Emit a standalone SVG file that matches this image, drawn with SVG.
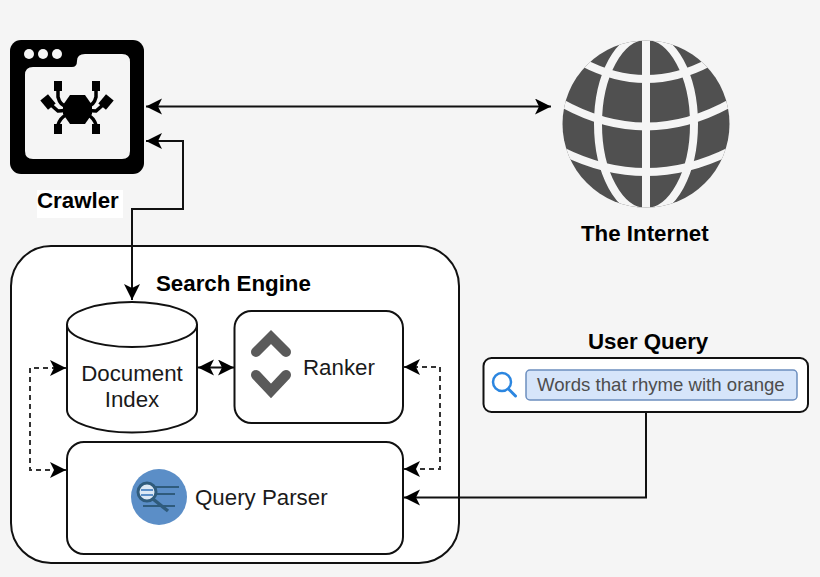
<svg xmlns="http://www.w3.org/2000/svg" width="820" height="577" viewBox="0 0 820 577">
<style>
text{font-family:"Liberation Sans",Arial,sans-serif;font-size:22.300px;fill:#1a1a1a}
.b{font-weight:bold;fill:#000}
.box{fill:#fff;stroke:#111;stroke-width:2}
.line{fill:none;stroke:#111;stroke-width:2}
.dash{stroke-dasharray:5 4;stroke:#333}
.gap{fill:none;stroke:#f5f5f5;stroke-width:8}
.chev{fill:none;stroke:#5a5a5a;stroke-width:10;stroke-linecap:round;stroke-linejoin:miter}
.leg{fill:none;stroke:#000;stroke-width:3.500}
</style>
<defs>
<marker id="a" markerUnits="userSpaceOnUse" markerWidth="18" markerHeight="18" refX="16" refY="8" orient="auto-start-reverse" viewBox="0 0 18 18">
<path d="M16,8 L0,0 L4,8 L0,16 Z" fill="#000"/>
</marker>
<clipPath id="gc"><circle cx="646" cy="124" r="83.500"/></clipPath>
</defs>
<rect width="820" height="577" fill="#f5f5f5"/>

<g id="crawler">
<rect x="10" y="40" width="134" height="134" rx="11" fill="#000"/>
<path d="M25,75 Q25,67 33,67 H72 Q77,67 77,61 Q77,54 85,54 H122 Q130,54 130,62 V151 Q130,159 122,159 H33 Q25,159 25,151 Z" fill="#f5f5f5"/>
<circle cx="29" cy="54" r="5" fill="#f5f5f5"/><circle cx="43" cy="54" r="5" fill="#f5f5f5"/><circle cx="57" cy="54" r="5" fill="#f5f5f5"/>
<path d="M70,95 H85 L92,105 V114 L85,124 H70 L63,114 V105 Z" fill="#000"/>
<path class="leg" d="M58,90 V97 Q60,105 66,106 M96,90 V97 Q94,105 88,106 M50,104 L58,111 Q62,111 66,110 M104,104 L96,111 Q92,111 88,110 M58,125 Q60,118 66,115 M96,125 Q94,118 88,115"/>
<rect x="54" y="81" width="8" height="10" fill="#000"/><rect x="92" y="81" width="8" height="10" fill="#000"/>
<rect x="54" y="124" width="8" height="10" fill="#000"/><rect x="92" y="124" width="8" height="10" fill="#000"/>
<rect x="43" y="96" width="10" height="12" fill="#000" transform="rotate(-40 48 102)"/><rect x="101" y="96" width="10" height="12" fill="#000" transform="rotate(40 106 102)"/>
<rect x="37" y="190" width="86" height="28" fill="#fff"/>
<text class="b" x="37" y="208">Crawler</text>
</g>

<g id="internet">
<circle cx="646" cy="124" r="83.500" fill="#505050"/>
<g clip-path="url(#gc)">
<path class="gap" d="M646,36 V212"/>
<ellipse class="gap" cx="646" cy="124" rx="48" ry="88"/>
<path class="gap" d="M582,62 Q646,96 710,62"/>
<path class="gap" d="M558,101 Q646,152 734,101"/>
<path class="gap" d="M562,151 Q646,193 730,151"/>
</g>
<text class="b" x="581" y="241">The Internet</text>
</g>

<g id="search-engine">
<rect class="box" x="11" y="246" width="448" height="317" rx="40"/>
<text class="b" x="156" y="291">Search Engine</text>
</g>

<g id="document-index">
<path class="box" d="M67,324.500 A65,22.500 0 0 1 197,324.500 V410 A65,22.500 0 0 1 67,410 Z"/>
<path class="line" d="M67,324.500 A65,22.500 0 0 0 197,324.500"/>
<text x="132" y="381" text-anchor="middle">Document</text>
<text x="132" y="407" text-anchor="middle">Index</text>
</g>

<g id="ranker">
<rect class="box" x="234.500" y="311" width="168.500" height="112" rx="17"/>
<path class="chev" d="M256,352 L271,337 L286,352"/>
<path class="chev" d="M256,375 L271,391 L286,375"/>
<text x="303" y="375">Ranker</text>
</g>

<g id="query-parser">
<rect class="box" x="67" y="442" width="336" height="112" rx="17"/>
<circle cx="159" cy="497" r="28" fill="#5b8ec7"/>
<path d="M152,487 H179 M154,494 H175 M143,506 H175" fill="none" stroke="#2f5b7c" stroke-width="2"/>
<circle cx="147" cy="492" r="9" fill="#dce8f5" stroke="#2f5b7c" stroke-width="3"/>
<path d="M141,490 H153 M141,495 H153" stroke="#5b8ec7" stroke-width="2"/>
<path d="M153,499 L168,511" stroke="#2f5b7c" stroke-width="3.500"/>
<text x="195" y="505">Query Parser</text>
</g>

<g id="user-query">
<text class="b" x="588" y="349">User Query</text>
<rect class="box" x="483.500" y="358" width="324.500" height="54" rx="8"/>
<circle cx="502" cy="382" r="9" fill="none" stroke="#2b86e0" stroke-width="2.500"/>
<path d="M508.500,389 L515.500,396" stroke="#2b86e0" stroke-width="3" stroke-linecap="round"/>
<rect x="526" y="370" width="271" height="30" rx="4" fill="#d6e5fa" stroke="#6c8ebf" stroke-width="1.500"/>
<text x="537" y="391" style="font-size:18.600px;fill:#4d4d4d">Words that rhyme with orange</text>
</g>

<g id="connectors">
<path class="line" d="M146,106.500 H551" marker-start="url(#a)" marker-end="url(#a)"/>
<path class="line" d="M146,141 H183 V209 H132 V300" marker-start="url(#a)" marker-end="url(#a)"/>
<path class="line" d="M198,367.500 H234" marker-start="url(#a)" marker-end="url(#a)"/>
<path class="line dash" d="M66,368 H30 V470 H66" marker-start="url(#a)" marker-end="url(#a)"/>
<path class="line dash" d="M404,367 H440 V469 H404" marker-start="url(#a)" marker-end="url(#a)"/>
<path class="line" d="M646,412 V497.500 H404" marker-end="url(#a)"/>
</g>
</svg>
